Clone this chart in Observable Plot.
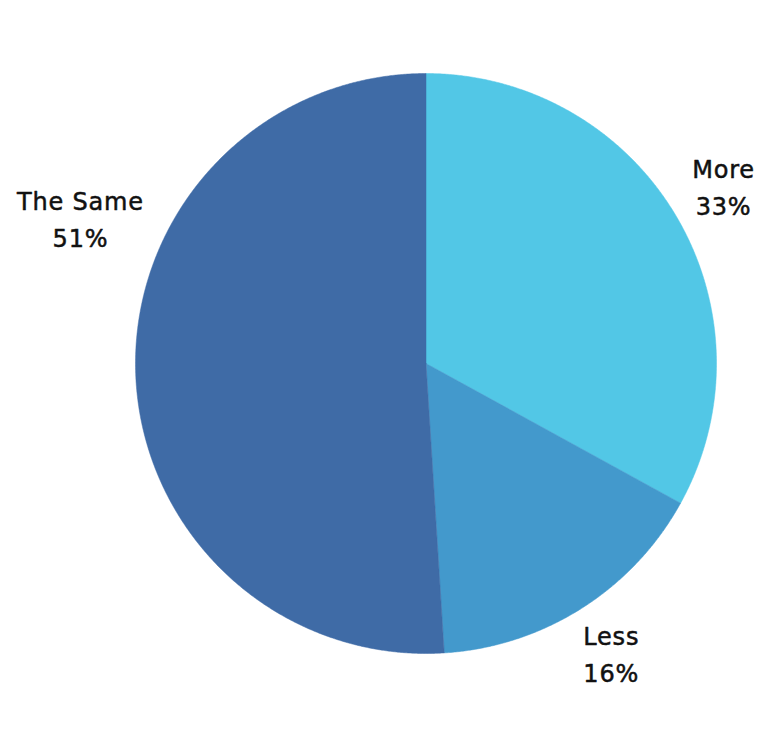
<!DOCTYPE html>
<html>
<head>
<meta charset="utf-8">
<script src="https://cdn.jsdelivr.net/npm/d3@7"></script>
<script src="https://cdn.jsdelivr.net/npm/@observablehq/plot@0.6"></script>
<style>
  html, body { margin: 0; padding: 0; background: #fff; }
  #chart { width: 768px; height: 739px; }
</style>
</head>
<body>
<div id="chart"></div>
<script>
const categories = ["More", "Less", "The Same"];
const values = [33, 16, 51];
const labels = ["33%", "16%", "51%"];
const colors = ["#52C7E6", "#4399CC", "#3F6BA6"];

const pie = d3.pie().sort(null).value(d => d.value)(
  categories.map((c, i) => ({name: c, value: values[i], label: labels[i]}))
);

// polygon points of each slice (angle 0 = top, clockwise)
const pts = [];
pie.forEach(p => {
  const n = Math.max(2, Math.ceil((p.endAngle - p.startAngle) / 0.005));
  pts.push({name: p.data.name, x: 0, y: 0});
  for (let k = 0; k <= n; k++) {
    const a = p.startAngle + (p.endAngle - p.startAngle) * k / n;
    pts.push({name: p.data.name, x: Math.sin(a), y: Math.cos(a)});
  }
  pts.push({name: p.data.name, x: 0, y: 0});
});

const labelR = 1.19;
const lab = pie.map(p => {
  const a = (p.startAngle + p.endAngle) / 2;
  return {name: p.data.name, label: p.data.label, x: labelR * Math.sin(a), y: labelR * Math.cos(a)};
});

const textStyle = {
  x: "x", y: "y", text: d => d.name + "\n" + d.label,
  fontSize: 24, fontWeight: 500, fill: "#111", stroke: "#111", strokeWidth: 0.5,
  lineHeight: 1.55, fontFamily: "'DejaVu Sans', sans-serif"
};

const plot = Plot.plot({
  width: 768,
  height: 739,
  marginLeft: 135,
  marginRight: 52,
  marginTop: 73,
  marginBottom: 86,
  x: {domain: [-1, 1], axis: null},
  y: {domain: [-1, 1], axis: null},
  color: {domain: categories, range: colors},
  style: {fontFamily: "'DejaVu Sans', sans-serif", background: "#fff"},
  marks: [
    Plot.line(pts, {x: "x", y: "y", z: "name", fill: "name", stroke: "name", strokeWidth: 0.5, curve: "linear"}),
    Plot.text(lab.filter(d => d.name !== "The Same"), {...textStyle, dy: -3}),
    Plot.text(lab.filter(d => d.name === "The Same"), {...textStyle, dy: -158})
  ]
});
plot.querySelectorAll("text").forEach(t => t.setAttribute("letter-spacing", "0.8"));
document.getElementById("chart").appendChild(plot);
</script>
</body>
</html>
